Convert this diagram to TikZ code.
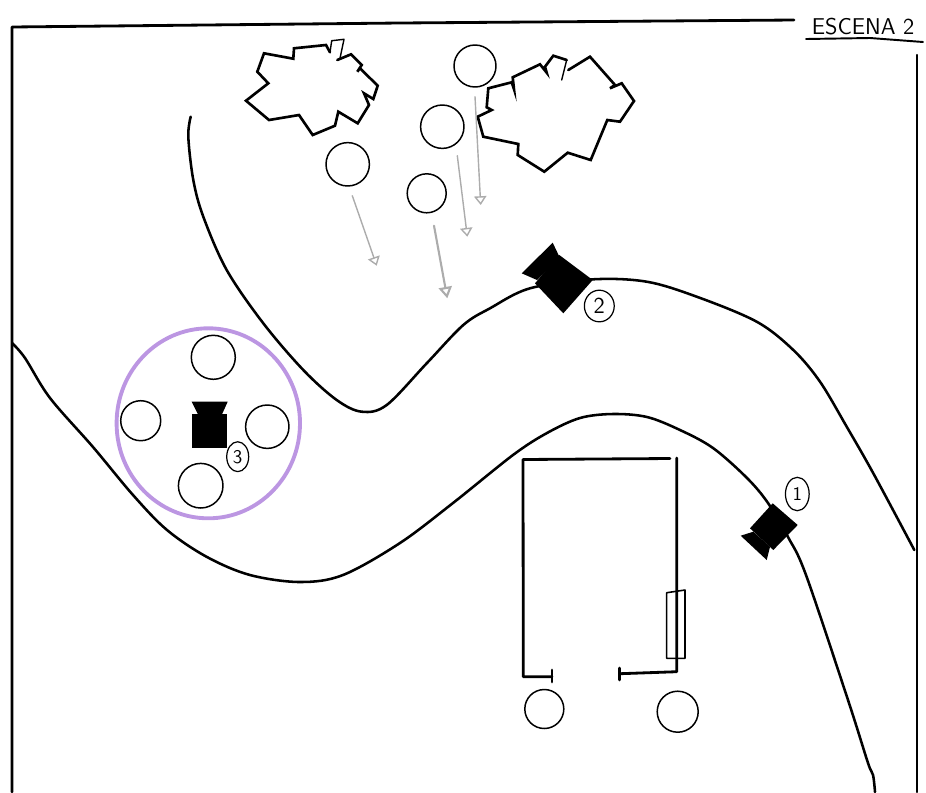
\documentclass[tikz,border=0pt]{standalone}
\usepackage{xcolor}
\usepackage{tikz}
\usetikzlibrary{arrows.meta,shapes.geometric}
\definecolor{gazegray}{RGB}{172,172,172}
\definecolor{ringpurple}{RGB}{188,150,226}
\tikzset{
  person/.style={circle,draw,line width=.85pt,inner sep=0pt,outer sep=0pt,
    minimum size=#1*.4mm},
  camlabel/.style={ellipse,draw,line width=.7pt,inner sep=0pt,outer sep=0pt,
    font=\sffamily\fontsize{#1}{#1}\selectfont},
  bush/.style={line width=1.5pt,line join=miter},
  road/.style={line width=1.45pt},
  wall/.style={line width=1.6pt},
  gaze/.style={gazegray,line width=.8pt,
    -{Triangle[open,length=5pt,width=7pt]}},
  gazeheavy/.style={gazegray,line width=1.2pt,
    -{Triangle[open,length=6.5pt,width=7.5pt]}},
}
\begin{document}
\begin{tikzpicture}[x=.02cm,y=-.02cm,line cap=round,line join=round]
  \useasboundingbox (0,0) rectangle (926,792);

  % Frame, left open beside the title.
  \draw[line width=1.6pt] (12,792) -- (12,27) -- (400,23) -- (794,20);
  \draw[line width=1.3pt] (917,55) -- (917,792);
  \node[font=\sffamily\fontsize{13}{13}\selectfont] (title) at (863,27) {ESCENA 2};
  \draw[line width=1.1pt] (806,39) -- (870,38) -- (923,42);

  % The two edges of the path.
  \draw[road] plot[smooth,tension=.55] coordinates {
    (190.7,116.7) (188.3,136.7) (193.3,180) (203.3,216.7) (226.7,270)
    (263.3,323.3) (303.3,370) (336.7,400) (361.7,411.7) (386.7,405)
    (426.7,363.3) (463.3,325) (490,308.3) (530,288.3) (593.3,279.3)
    (646.7,281.7) (696.7,296.7) (756.7,321.7) (793.3,350) (820,381.7)
    (846.7,426.7) (873.3,473.3) (914.3,550)};
  \draw[road] plot[smooth,tension=.55] coordinates {
    (12,343) (25,358) (50,398) (93,447) (133,495) (167,530) (207,557)
    (250,575) (300,582) (343,575) (400,543) (453,503) (513,455) (547,433)
    (580,418) (613,414) (647,417) (680,430) (713,448) (747,478) (768,503)
    (788,537) (806,575) (848,700) (868,763) (873,775) (875,792)};

  % Bushes; the thin strokes are the flicks on top.
  \draw[bush] (337.3,60) -- (351,54.3) -- (361.7,65) -- (357.3,71.7) -- (360,68.3)
    -- (377.7,85.7) -- (373.3,99) -- (364,93.3) -- (369,105) -- (357.7,123.3)
    -- (338.3,111.7) -- (335,125.7) -- (312.7,135) -- (299,115) -- (269,120)
    -- (246,100.7) -- (268.3,83.3) -- (257.3,71.7) -- (264,53.3) -- (293.3,58.7)
    -- (294,48.3) -- (326,45) -- (330,52.3);
  \draw[line width=.8pt] (330,52.3) -- (331.7,40.7) -- (344,39.3) -- (340,58.3);
  \draw[bush] (568.3,70) -- (590,56.7) -- (615,85) -- (610,88.3) -- (621.7,83.3)
    -- (634,101) -- (620,121.7) -- (607.3,120) -- (590.7,160) -- (567.7,152.7)
    -- (544.3,171.7) -- (517.7,155) -- (518.3,144) -- (483.3,136.7) -- (477.7,116.7)
    -- (491.7,110) -- (486.7,107.3) -- (488.3,88.3) -- (511.7,82.3) -- (514,89.3)
    -- (512.7,77.3) -- (540,64.3) -- (546.7,72.7) -- (545,66.7) -- (553.3,55.7)
    -- (566.7,60);
  \draw[line width=.8pt] (566.7,60) -- (561.7,80);

  % People above the path and their gazes.
  \node[person=21] (walkerA) at (475,66) {};
  \node[person=21.7] (walkerB) at (442.3,126.7) {};
  \node[person=21.7] (walkerC) at (347.7,164.3) {};
  \node[person=19.5] (walkerD) at (426.7,193.3) {};
  \coordinate (gazeAfrom) at (475,96.7);
  \coordinate (gazeAto) at (480.7,205);
  \coordinate (gazeBfrom) at (457.3,155.7);
  \coordinate (gazeBto) at (467.3,236.7);
  \coordinate (gazeCfrom) at (352.3,195.7);
  \coordinate (gazeCto) at (376.7,265.7);
  \coordinate (gazeDfrom) at (434,225.7);
  \coordinate (gazeDto) at (447.3,298.3);
  \draw[gaze] (gazeAfrom) -- (gazeAto);
  \draw[gaze] (gazeBfrom) -- (gazeBto);
  \draw[gaze] (gazeCfrom) -- (gazeCto);
  \draw[gazeheavy] (gazeDfrom) -- (gazeDto);

  % Group around camera 3.
  \draw[ringpurple,line width=2.2pt] (208.3,423.3) ellipse[x radius=91.7,y radius=95];
  \node[person=22] (groupN) at (213.3,357.3) {};
  \node[person=20] (groupW) at (140.7,420.7) {};
  \node[person=21.7] (groupE) at (267.3,426.7) {};
  \node[person=22.3] (groupS) at (200.7,485.7) {};

  % Cameras.
  \fill (772.7,503.3) -- (797.7,525) -- (773.3,550) -- (750,528.3) -- cycle;
  \fill (740.7,535.7) -- (766.7,560) -- (770,546.7) -- (753.3,531.7) -- cycle;
  \fill (559.3,255) -- (592.7,280) -- (563.3,313.3) -- (535,283.3) -- cycle;
  \fill (552.7,242.7) -- (521.7,273.3) -- (537,280) -- (560,258) -- cycle;
  \fill (192.3,414.3) rectangle (226.7,448.3);
  \fill (191.7,401.7) -- (227.7,401.7) -- (221.7,415) -- (198.3,415) -- cycle;
  \node[camlabel=11,minimum width=13.5pt,minimum height=19pt] (labelA) at (797.3,494) {1};
  \node[camlabel=13,minimum width=17pt,minimum height=18pt] (labelB) at (599.3,306) {2};
  \node[camlabel=11,minimum width=12.5pt,minimum height=17pt] (labelC) at (237.7,456.7) {3};

  % Building with the gap for its door.
  \draw[wall] (552,676.7) -- (523.3,676.7) -- (523,459.5) -- (670,458.5);
  \draw[wall] (676.7,458) -- (676.7,671.7) -- (620,673.7);
  \draw[wall] (552,670) -- (552,682);
  \draw[wall] (619.5,668) -- (619.5,680);
  \draw[line width=.9pt] (666.7,592.7) -- (685,590) -- (685,658.3) -- (666.7,658.3) -- cycle;
  \node[person=19.5] (guestL) at (544.3,709) {};
  \node[person=20.5] (guestR) at (677.7,711.7) {};
\end{tikzpicture}
\end{document}
